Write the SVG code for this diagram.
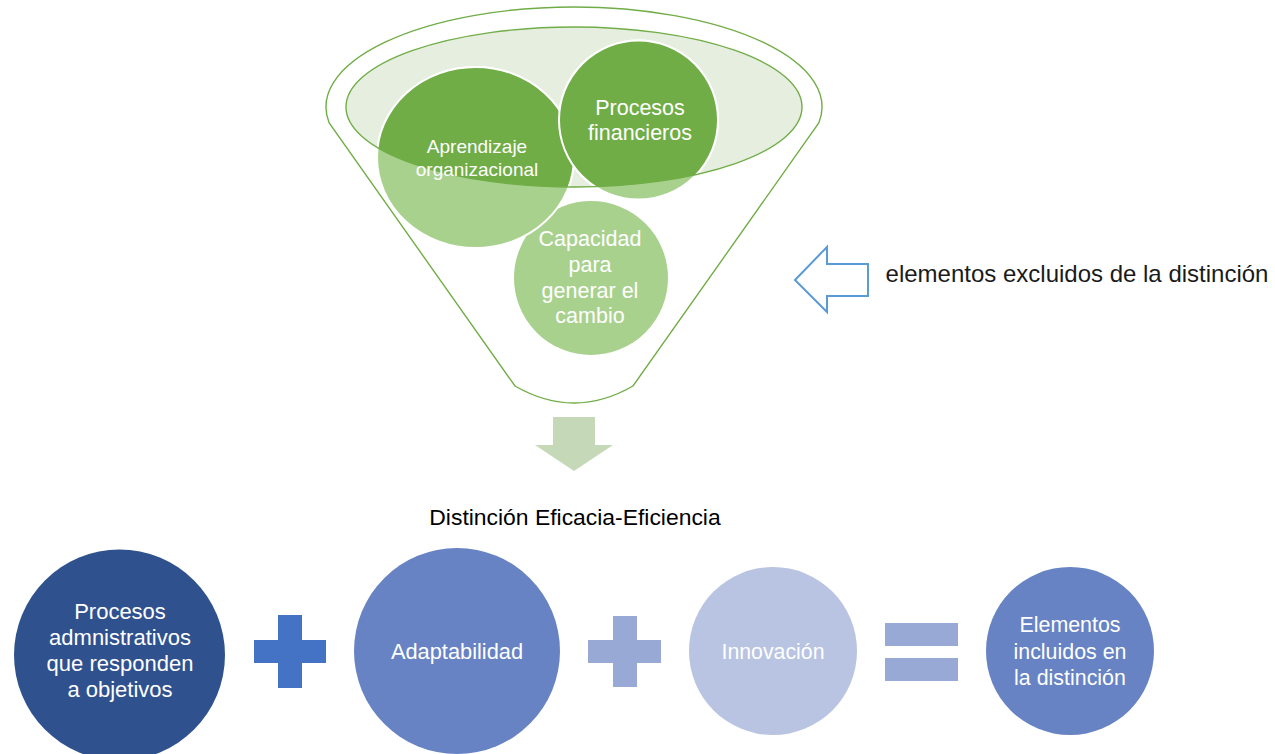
<svg xmlns="http://www.w3.org/2000/svg" width="1275" height="754" viewBox="0 0 1275 754">
<style>
  text { font-family: "Liberation Sans", Arial, sans-serif; text-anchor: middle; }
  .wt { fill: #ffffff; }
  .lg { fill: #a9d18e; stroke: #ffffff; stroke-width: 2; }
  .dg { fill: #70ad47; stroke: #ffffff; stroke-width: 2; }
  .fl { fill: none; stroke: #70ad47; stroke-width: 1.4; }
</style>
<defs>
  <clipPath id="innerClip">
    <ellipse cx="574" cy="107" rx="228" ry="80"/>
  </clipPath>
</defs>
<rect width="1275" height="754" fill="#ffffff"/>

<g id="funnel">
  <path d="M 329.2 123 A 248 100 0 1 1 818.8 123 L 633 386 Q 574 420 515 386 Z" fill="#ffffff" stroke="#70ad47" stroke-width="1.4"/>
  <ellipse cx="574" cy="107" rx="228" ry="80" fill="#e6eee0"/>
</g>

<g id="node-capacidad">
  <circle class="lg" cx="591" cy="278" r="78"/>
</g>
<g id="node-aprendizaje">
  <ellipse class="lg" cx="475.5" cy="157.5" rx="98.5" ry="90.5"/>
</g>
<g id="node-procesos-fin">
  <circle class="lg" cx="638.5" cy="120" r="79.5"/>
</g>
<g id="funnel-top" clip-path="url(#innerClip)">
  <ellipse class="dg" cx="475.5" cy="157.5" rx="98.5" ry="90.5"/>
  <circle class="dg" cx="638.5" cy="120" r="79.5"/>
</g>
<g id="funnel-rim">
  <ellipse class="fl" cx="574" cy="107" rx="228" ry="80"/>
</g>
<g id="funnel-labels">
  <text class="wt" x="477" y="153" font-size="19">Aprendizaje</text>
  <text class="wt" x="477" y="176" font-size="19">organizacional</text>
  <text class="wt" x="640" y="115" font-size="21.5">Procesos</text>
  <text class="wt" x="640" y="140" font-size="21.5">financieros</text>
  <text class="wt" x="590" y="246" font-size="21.5">Capacidad</text>
  <text class="wt" x="590" y="272" font-size="21.5">para</text>
  <text class="wt" x="590" y="298" font-size="21.5">generar el</text>
  <text class="wt" x="590" y="323" font-size="21.5">cambio</text>
</g>

<g id="connectors">
  <polygon points="553,417 595,417 595,445 613,445 574,471 535,445 553,445" fill="#c5d9b9"/>
  <polygon points="795,280 827,247 827,264 868,264 868,296 827,296 827,312" fill="#ffffff" stroke="#5b9bd5" stroke-width="2"/>
</g>

<g id="label-excluidos">
  <text x="1077" y="282" font-size="24" fill="#1a1a1a">elementos excluidos de la distinción</text>
</g>
<g id="title">
  <text x="575" y="525" font-size="22.9" fill="#000000">Distinción Eficacia-Eficiencia</text>
</g>

<g id="node-procesos-adm">
  <circle cx="119.5" cy="655" r="105.5" fill="#2f528f"/>
  <text class="wt" x="120" y="619" font-size="22">Procesos</text>
  <text class="wt" x="120" y="645" font-size="22">admnistrativos</text>
  <text class="wt" x="120" y="671" font-size="22">que responden</text>
  <text class="wt" x="120" y="697" font-size="22">a objetivos</text>
</g>
<g id="op-plus-1">
  <rect x="278" y="615" width="24" height="73" fill="#4472c4"/>
  <rect x="254" y="640" width="72" height="23" fill="#4472c4"/>
</g>
<g id="node-adaptabilidad">
  <circle cx="457" cy="651" r="103" fill="#6783c4"/>
  <text class="wt" x="457" y="659" font-size="21.8">Adaptabilidad</text>
</g>
<g id="op-plus-2">
  <rect x="613" y="616" width="24" height="71" fill="#98a9d5"/>
  <rect x="588" y="640" width="73" height="23" fill="#98a9d5"/>
</g>
<g id="node-innovacion">
  <circle cx="773" cy="651" r="84" fill="#b8c4e2"/>
  <text class="wt" x="773" y="659" font-size="21.3">Innovación</text>
</g>
<g id="op-equals">
  <rect x="885" y="623" width="73" height="23" fill="#98a9d5"/>
  <rect x="885" y="658" width="73" height="23" fill="#98a9d5"/>
</g>
<g id="node-elementos">
  <circle cx="1070" cy="651" r="84" fill="#6783c4"/>
  <text class="wt" x="1070" y="632" font-size="21.4">Elementos</text>
  <text class="wt" x="1070" y="659" font-size="21.4">incluidos en</text>
  <text class="wt" x="1070" y="685" font-size="21.4">la distinción</text>
</g>
</svg>
